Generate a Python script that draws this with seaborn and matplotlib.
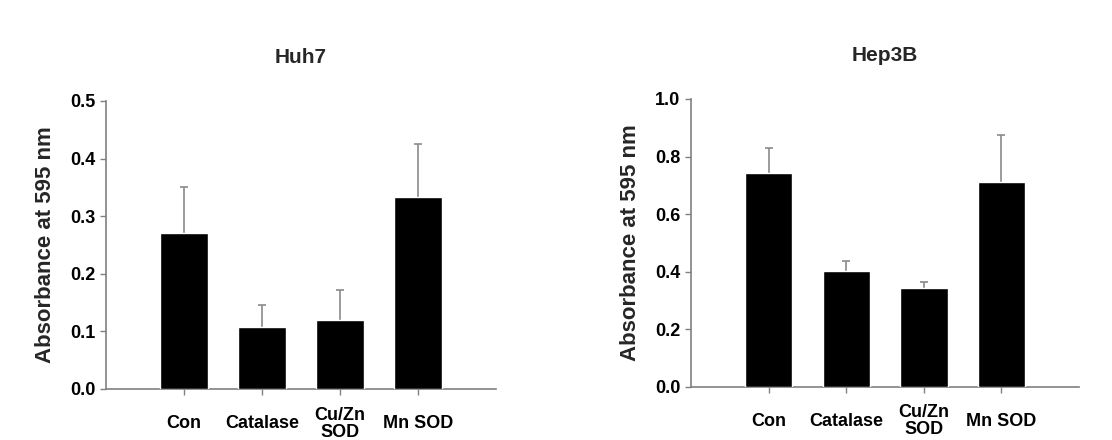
import numpy as np
import pandas as pd
import seaborn as sns
import matplotlib.pyplot as plt

# values
groups = ["Con", "Catalase", "Cu/Zn\nSOD", "Mn SOD"]
huh7_mean = [0.27, 0.108, 0.12, 0.334]
huh7_err = [0.080, 0.038, 0.051, 0.092]
hep3b_mean = [0.744, 0.402, 0.342, 0.713]
hep3b_err = [0.085, 0.034, 0.023, 0.161]

sns.set_style("ticks")
plt.rcParams['font.family'] = ['Liberation Sans', 'DejaVu Sans']
plt.rcParams['font.weight'] = 'bold'

fig = plt.figure(figsize=(11.12, 4.4), dpi=100)
ax1 = fig.add_axes([0.0953, 0.116, 0.3507, 0.6545])
ax2 = fig.add_axes([0.6214, 0.1211, 0.349, 0.654])

def draw_panel(ax, title, means, errs, ymax, step):
    df = pd.DataFrame({"group": groups, "value": means})
    sns.barplot(data=df, x="group", y="value", color="black", width=0.61,
                saturation=1, ax=ax, zorder=3)
    x = np.arange(len(groups))
    top = np.array(means) + np.array(errs)
    # one-sided (upper) error bars, cap only at the top
    ax.vlines(x, means, top, color="#8a8a8a", linewidth=1.2, zorder=2)
    ax.scatter(x, top, marker="_", s=40, color="#8a8a8a", linewidths=1.2, zorder=2)
    ax.set_xlim(-1, 4)
    ax.set_ylim(0, ymax)
    ax.set_yticks(np.arange(0, ymax + step / 2, step))
    ax.yaxis.set_major_formatter(plt.FormatStrFormatter("%.1f"))
    ax.set_xlabel("")
    ax.set_ylabel("Absorbance at 595 nm", fontsize=16, fontweight="bold", labelpad=10)
    ax.set_title(title, fontsize=15, fontweight="bold", pad=27)
    sns.despine(ax=ax)
    for s in ["left", "bottom"]:
        ax.spines[s].set_color("#808080")
        ax.spines[s].set_linewidth(1.2)
    ax.tick_params(axis="both", colors="#808080", labelcolor="black",
                   length=4, width=1, labelsize=13)
    ax.tick_params(axis="x", pad=21)
    for lab in ax.get_xticklabels():
        lab.set_verticalalignment("center")
        lab.set_fontweight("bold")
        lab.set_linespacing(1.0)
    for lab in ax.get_yticklabels():
        lab.set_fontweight("bold")

draw_panel(ax1, "Huh7", huh7_mean, huh7_err, 0.5, 0.1)
draw_panel(ax2, "Hep3B", hep3b_mean, hep3b_err, 1.0, 0.2)

fig.savefig("out.png", dpi=100)
